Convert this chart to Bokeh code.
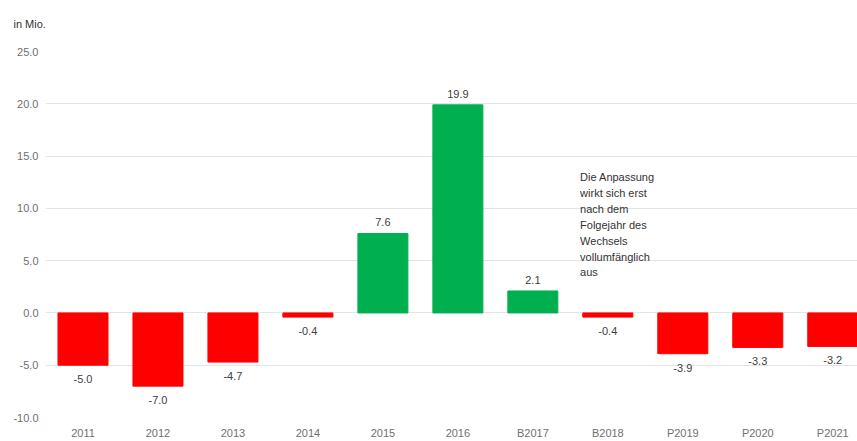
from bokeh.plotting import figure
from bokeh.models import ColumnDataSource, Label, FixedTicker, Range1d, LabelSet
from bokeh.core.properties import value
from bokeh.embed import file_html
from bokeh.resources import INLINE

categories = ["2011", "2012", "2013", "2014", "2015", "2016", "B2017", "B2018", "P2019", "P2020", "P2021"]
values = [-5.0, -7.0, -4.7, -0.4, 7.6, 19.9, 2.1, -0.4, -3.9, -3.3, -3.2]
y_ticks = [-10, -5, 0, 5, 10, 15, 20, 25]
note = "Die Anpassung\nwirkt sich erst\nnach dem\nFolgejahr des\nWechsels\nvollumfänglich\naus"
unit = "in Mio."

FONT = "Liberation Sans"
xs = [i + 0.5 for i in range(len(categories))]
colors = ["#00B050" if v > 0 else "#FF0000" for v in values]
labels = [f"{v:.1f}" for v in values]
offsets = [7 if v > 0 else -10 for v in values]
baselines = ["bottom" if v > 0 else "top" for v in values]

src = ColumnDataSource(dict(x=xs, top=values, color=colors, label=labels,
                            yoff=offsets, base=baselines))

FH = 366
p = figure(frame_width=812, frame_height=FH, output_backend="svg", toolbar_location=None,
           x_range=Range1d(0, 10.83), y_range=Range1d(-10, 25),
           min_border_left=45, min_border_right=0, min_border_top=51, min_border_bottom=20,
           title=unit + "\n ")
p.outline_line_color = None
p.background_fill_color = "white"
p.border_fill_color = "white"

p.title.align = "left"
p.title.offset = -32
p.title.standoff = 20
p.title.text_font = FONT
p.title.text_font_size = "11px"
p.title.text_font_style = "normal"
p.title.text_color = "#333333"

p.vbar(x="x", top="top", bottom=0, width=0.667, color="color", source=src)

p.add_layout(LabelSet(x="x", y="top", text="label", y_offset="yoff", text_baseline="base",
                      text_align="center", text_font=value(FONT), text_font_size="11px",
                      text_color="#404040", source=src))

p.xaxis.ticker = FixedTicker(ticks=xs)
p.xaxis.major_label_overrides = {x: c for x, c in zip(xs, categories)}
p.yaxis.ticker = FixedTicker(ticks=y_ticks)
p.yaxis.major_label_overrides = {t: f"{t:.1f}" for t in y_ticks}
for ax in (p.xaxis[0], p.yaxis[0]):
    ax.axis_line_color = None
    ax.major_tick_line_color = None
    ax.minor_tick_line_color = None
    ax.major_tick_in = 0
    ax.major_tick_out = 0
    ax.minor_tick_in = 0
    ax.minor_tick_out = 0
    ax.major_label_text_font = FONT
    ax.major_label_text_font_size = "11px"
    ax.major_label_text_color = "#707070"
p.xaxis.major_label_standoff = 9
p.yaxis.major_label_standoff = 7

p.xgrid.grid_line_color = None
p.ygrid.ticker = FixedTicker(ticks=y_ticks)
p.ygrid.grid_line_color = "#e4e4e4"
p.ygrid.grid_line_width = 1

p.add_layout(Label(x=7.13, y=13.6, text=note, text_font=FONT, text_font_size="11px",
                   text_color="#333333", text_baseline="top", text_line_height=1.33))

open("out.html", "w").write(file_html(p, INLINE))
